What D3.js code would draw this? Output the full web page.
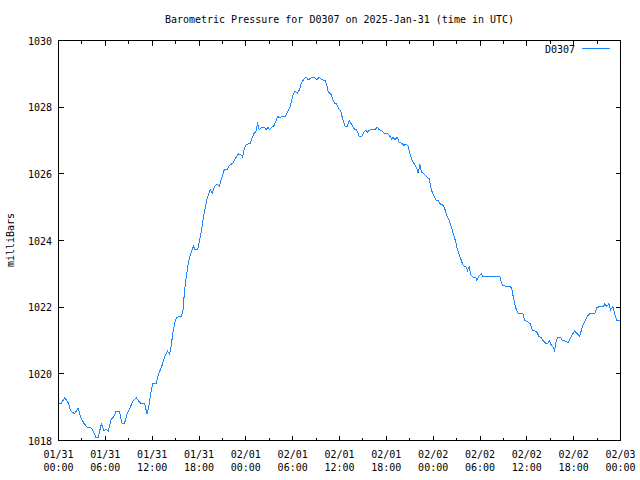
<!DOCTYPE html>
<html>
<head>
<meta charset="utf-8">
<script src="https://cdn.jsdelivr.net/npm/d3@7/dist/d3.min.js"></script>
<style>
  html, body { margin: 0; padding: 0; background: #fff; }
  svg { display: block; }
  text { font-family: "DejaVu Sans Mono", "Liberation Mono", monospace; font-size: 10px; fill: #000; }
</style>
</head>
<body>
<svg id="chart" width="640" height="480"></svg>
<script>
// ---- Data (hours after 2025-01-31 00:00 UTC, pressure in mbar) ----
const hoursSinceStart = [
  0.10, 0.29, 0.81, 1.32, 1.53, 2.05, 2.52, 2.85, 3.24, 3.67, 4.22, 4.51, 4.82, 5.08, 5.50, 5.84,
  6.10, 6.36, 6.78, 7.07, 7.38, 7.80, 8.15, 8.44, 8.79, 9.21, 9.50, 9.98, 10.36, 10.62, 11.04, 11.34,
  11.55, 11.77, 12.06, 12.53, 12.83, 13.26, 13.68, 13.98, 14.23, 14.41, 14.67, 14.96, 15.18, 15.73,
  15.95, 16.15, 16.37, 16.59, 16.79, 17.10, 17.30, 17.52, 17.82, 18.07, 18.25, 18.51, 18.80, 19.09,
  19.44, 19.73, 19.95, 20.30, 20.59, 20.94, 21.23, 21.58, 21.91, 22.34, 22.64, 23.06, 23.37, 23.57,
  23.79, 24.04, 24.56, 24.77, 25.07, 25.28, 25.49, 25.74, 26.05, 26.35, 26.60, 26.82, 27.02, 27.33,
  27.62, 27.88, 28.10, 28.30, 28.61, 29.03, 29.33, 29.67, 30.02, 30.31, 30.60, 30.86, 31.08, 31.37,
  31.72, 32.01, 32.45, 32.74, 33.08, 33.42, 33.72, 34.15, 34.36, 34.57, 34.88, 35.13, 35.34, 35.64,
  35.90, 36.15, 36.32, 36.49, 36.74, 37.00, 37.25, 37.56, 37.86, 38.20, 38.53, 38.84, 39.13, 39.39,
  39.56, 39.90, 40.54, 40.84, 41.09, 41.40, 41.69, 42.11, 42.37, 42.68, 42.88, 43.10, 43.39, 43.65,
  43.96, 44.25, 44.51, 44.80, 45.02, 45.27, 45.57, 45.87, 46.08, 46.30, 46.51, 46.81, 47.23, 47.49,
  47.79, 48.09, 48.34, 48.64, 48.85, 49.20, 49.49, 49.79, 50.04, 50.35, 50.64, 50.90, 51.07, 51.32,
  51.83, 52.27, 52.40, 52.60, 52.82, 53.11, 53.46, 53.55, 53.84, 54.19, 54.39, 55.25, 56.53, 56.87,
  58.02, 58.23, 58.45, 58.66, 58.87, 59.51, 59.72, 60.15, 60.45, 60.71, 61.22, 61.55, 61.86, 62.07,
  62.41, 62.71, 62.92, 63.14, 63.34, 63.56, 63.78, 63.98, 64.29, 64.55, 65.06, 65.26, 65.57, 65.83,
  66.12, 66.41, 66.76, 66.98, 67.18, 67.53, 67.82, 68.04, 68.68, 68.97, 69.32, 69.83, 70.00, 70.25,
  70.51, 70.72, 71.02, 71.23, 71.53, 71.88
];
const pressure = [
  1019.12, 1019.10, 1019.28, 1019.10, 1018.90, 1018.80, 1018.97, 1018.70, 1018.52, 1018.40, 1018.37, 1018.25, 1018.08, 1018.10, 1018.50, 1018.28,
  1018.35, 1018.28, 1018.65, 1018.70, 1018.88, 1018.88, 1018.50, 1018.50, 1018.80, 1019.00, 1019.18, 1019.28, 1019.15, 1019.10, 1019.10, 1018.80,
  1019.00, 1019.35, 1019.70, 1019.72, 1020.00, 1020.25, 1020.55, 1020.68, 1020.60, 1020.80, 1021.25, 1021.60, 1021.70, 1021.72,
  1021.90, 1022.50, 1022.90, 1023.25, 1023.50, 1023.72, 1023.82, 1023.72, 1023.72, 1024.00, 1024.20, 1024.60, 1025.00, 1025.30,
  1025.52, 1025.42, 1025.60, 1025.70, 1025.62, 1025.90, 1026.12, 1026.12, 1026.25, 1026.32, 1026.45, 1026.60, 1026.58, 1026.50,
  1026.75, 1026.88, 1026.92, 1027.05, 1027.22, 1027.25, 1027.50, 1027.32, 1027.40, 1027.40, 1027.32, 1027.40, 1027.32, 1027.40,
  1027.45, 1027.60, 1027.72, 1027.68, 1027.72, 1027.72, 1027.85, 1028.00, 1028.35, 1028.48, 1028.42, 1028.52, 1028.70, 1028.82,
  1028.90, 1028.82, 1028.90, 1028.90, 1028.82, 1028.90, 1028.82, 1028.80, 1028.68, 1028.45, 1028.40, 1028.25, 1028.12, 1028.10,
  1027.95, 1027.90, 1027.72, 1027.58, 1027.42, 1027.42, 1027.60, 1027.48, 1027.35, 1027.32, 1027.12, 1027.12, 1027.25, 1027.32,
  1027.25, 1027.32, 1027.32, 1027.40, 1027.32, 1027.30, 1027.22, 1027.22, 1027.15, 1027.05, 1027.10, 1027.02, 1027.10, 1026.95,
  1026.92, 1026.85, 1026.90, 1026.82, 1026.60, 1026.42, 1026.30, 1026.18, 1026.02, 1026.28, 1026.05, 1026.00, 1025.90, 1025.85,
  1025.50, 1025.35, 1025.22, 1025.20, 1025.10, 1025.08, 1024.95, 1024.72, 1024.62, 1024.40, 1024.15, 1023.95, 1023.75, 1023.60,
  1023.25, 1023.20, 1023.10, 1023.22, 1022.98, 1022.90, 1022.90, 1022.80, 1022.92, 1023.00, 1022.92, 1022.92, 1022.92, 1022.65,
  1022.60, 1022.35, 1022.10, 1021.92, 1021.82, 1021.80, 1021.60, 1021.55, 1021.50, 1021.30, 1021.28, 1021.12, 1021.08, 1021.00,
  1020.92, 1020.92, 1021.00, 1020.85, 1020.82, 1020.70, 1021.00, 1021.10, 1021.10, 1021.00, 1020.98, 1020.92, 1021.05, 1021.18,
  1021.28, 1021.22, 1021.12, 1021.30, 1021.45, 1021.62, 1021.75, 1021.80, 1021.80, 1021.98, 1022.02, 1022.02, 1022.10, 1022.02,
  1022.10, 1021.92, 1022.02, 1021.82, 1021.60, 1021.60
];
const yTickValues = [1018, 1020, 1022, 1024, 1026, 1028, 1030];
const titleText = "Barometric Pressure for D0307 on 2025-Jan-31 (time in UTC)";
const yLabelText = "milliBars";
const seriesName = "D0307";
const startTime = new Date(Date.UTC(2025, 0, 31, 0, 0));
const endTime = new Date(Date.UTC(2025, 1, 3, 0, 0));

// ---- Build ----
const data = hoursSinceStart.map((h, i) => ({
  t: new Date(startTime.getTime() + h * 3600e3),
  p: pressure[i]
}));

const L = 58.5, R = 620.5, T = 40.5, B = 440.5;
const svg = d3.select("#chart");
const x = d3.scaleUtc().domain([startTime, endTime]).range([L, R]);
const y = d3.scaleLinear().domain([1018, 1030]).range([B, T]);

const majorTicks = d3.utcHour.every(6).range(startTime, new Date(endTime.getTime() + 1));
const minorTicks = d3.utcHour.every(3).range(startTime, new Date(endTime.getTime() + 1))
  .filter(d => d.getUTCHours() % 6 !== 0);

const g = svg.append("g").attr("shape-rendering", "crispEdges");

// Ticks (inward, mirrored)
function xTicks(ticks, len) {
  ticks.forEach(d => {
    const px = Math.round(x(d) - 0.5) + 0.5;
    g.append("line").attr("x1", px).attr("x2", px).attr("y1", B).attr("y2", B - len).attr("stroke", "#000");
    g.append("line").attr("x1", px).attr("x2", px).attr("y1", T).attr("y2", T + len).attr("stroke", "#000");
  });
}
xTicks(majorTicks, 5);
xTicks(minorTicks, 3);

yTickValues.forEach(v => {
  const py = Math.round(y(v) - 0.5) + 0.5;
  g.append("line").attr("x1", L).attr("x2", L + 5).attr("y1", py).attr("y2", py).attr("stroke", "#000");
  g.append("line").attr("x1", R).attr("x2", R - 5).attr("y1", py).attr("y2", py).attr("stroke", "#000");
});

// Border
g.append("rect").attr("x", L).attr("y", T).attr("width", R - L).attr("height", B - T)
  .attr("fill", "none").attr("stroke", "#000");

// Y tick labels
svg.append("g").selectAll("text").data(yTickValues).join("text")
  .attr("x", 52).attr("y", d => y(d) + 4)
  .attr("text-anchor", "end")
  .text(d => d);

// X tick labels
const fmtDate = d3.utcFormat("%m/%d");
const fmtTime = d3.utcFormat("%H:%M");
const xl = svg.append("g").selectAll("text").data(majorTicks).join("text")
  .attr("text-anchor", "middle");
xl.append("tspan").attr("x", d => x(d)).attr("y", 458).text(d => fmtDate(d));
xl.append("tspan").attr("x", d => x(d)).attr("y", 471).text(d => fmtTime(d));

// Title
svg.append("text").attr("x", (L + R) / 2).attr("y", 23).attr("text-anchor", "middle").text(titleText);

// Y label
svg.append("text").attr("transform", "translate(14,240) rotate(-90)")
  .attr("text-anchor", "middle").text(yLabelText);

// Line
const color = "#1a86ff";
svg.append("path").datum(data)
  .attr("fill", "none").attr("stroke", color).attr("stroke-width", 1)
  .attr("shape-rendering", "crispEdges")
  .attr("d", d3.line().x(d => x(d.t)).y(d => y(d.p)));

// Legend
svg.append("text").attr("x", 575).attr("y", 53).attr("text-anchor", "end").text(seriesName);
svg.append("line").attr("x1", 582).attr("x2", 610).attr("y1", 48.5).attr("y2", 48.5)
  .attr("stroke", color).attr("shape-rendering", "crispEdges");
</script>
</body>
</html>
